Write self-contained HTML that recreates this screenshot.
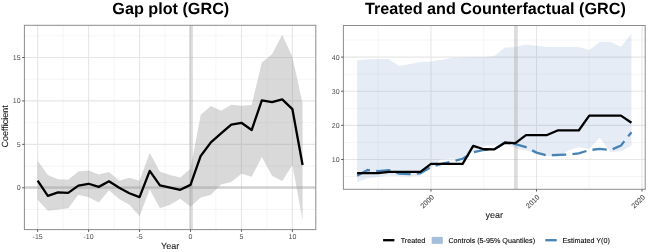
<!DOCTYPE html>
<html><head><meta charset="utf-8"><style>
html,body{margin:0;padding:0;background:#fff;width:648px;height:252px;overflow:hidden}
svg{display:block;will-change:transform;filter:blur(0.35px)}
text{font-family:"Liberation Sans",sans-serif;text-rendering:geometricPrecision}
.ax{font-size:7px;fill:#4d4d4d}
.ax2{font-size:7.1px;fill:#444;stroke:#444;stroke-width:0.06px}
.at{font-size:9px;fill:#111;stroke:#111;stroke-width:0.06px}
.ttl{font-size:16.2px;font-weight:bold;fill:#000}
.lg{font-size:7.2px;fill:#000;stroke:#000;stroke-width:0.08px}
</style></head><body>
<svg width="648" height="252" viewBox="0 0 648 252">
<rect width="648" height="252" fill="#fff"/>
<rect x="24.40" y="25.30" width="291.40" height="204.30" fill="#fff"/>
<line x1="24.40" x2="315.80" y1="209.46" y2="209.46" stroke="#eeeeee" stroke-width="0.6"/>
<line x1="24.40" x2="315.80" y1="166.04" y2="166.04" stroke="#eeeeee" stroke-width="0.6"/>
<line x1="24.40" x2="315.80" y1="122.63" y2="122.63" stroke="#eeeeee" stroke-width="0.6"/>
<line x1="24.40" x2="315.80" y1="79.21" y2="79.21" stroke="#eeeeee" stroke-width="0.6"/>
<line x1="24.40" x2="315.80" y1="35.80" y2="35.80" stroke="#eeeeee" stroke-width="0.6"/>
<line y1="25.30" y2="229.60" x1="63.12" x2="63.12" stroke="#eeeeee" stroke-width="0.6"/>
<line y1="25.30" y2="229.60" x1="114.08" x2="114.08" stroke="#eeeeee" stroke-width="0.6"/>
<line y1="25.30" y2="229.60" x1="165.03" x2="165.03" stroke="#eeeeee" stroke-width="0.6"/>
<line y1="25.30" y2="229.60" x1="215.97" x2="215.97" stroke="#eeeeee" stroke-width="0.6"/>
<line y1="25.30" y2="229.60" x1="266.93" x2="266.93" stroke="#eeeeee" stroke-width="0.6"/>
<line x1="24.40" x2="315.80" y1="187.75" y2="187.75" stroke="#e6e6e6" stroke-width="1.1"/>
<line x1="24.40" x2="315.80" y1="144.34" y2="144.34" stroke="#e6e6e6" stroke-width="1.1"/>
<line x1="24.40" x2="315.80" y1="100.92" y2="100.92" stroke="#e6e6e6" stroke-width="1.1"/>
<line x1="24.40" x2="315.80" y1="57.50" y2="57.50" stroke="#e6e6e6" stroke-width="1.1"/>
<line y1="25.30" y2="229.60" x1="37.65" x2="37.65" stroke="#e6e6e6" stroke-width="1.1"/>
<line y1="25.30" y2="229.60" x1="88.60" x2="88.60" stroke="#e6e6e6" stroke-width="1.1"/>
<line y1="25.30" y2="229.60" x1="139.55" x2="139.55" stroke="#e6e6e6" stroke-width="1.1"/>
<line y1="25.30" y2="229.60" x1="190.50" x2="190.50" stroke="#e6e6e6" stroke-width="1.1"/>
<line y1="25.30" y2="229.60" x1="241.45" x2="241.45" stroke="#e6e6e6" stroke-width="1.1"/>
<line y1="25.30" y2="229.60" x1="292.40" x2="292.40" stroke="#e6e6e6" stroke-width="1.1"/>
<polygon points="37.65,160.83 47.84,174.99 58.03,179.33 68.22,179.76 78.41,171.60 88.60,170.38 98.79,174.55 108.98,171.95 119.17,180.72 129.36,177.76 139.55,180.63 149.74,152.67 159.93,171.69 170.12,174.90 180.31,177.50 190.50,168.65 200.69,114.81 210.88,106.04 221.07,110.73 231.26,104.83 241.45,105.70 251.64,105.00 261.83,62.54 272.02,54.21 282.21,34.67 292.40,56.90 302.59,103.52 302.59,220.40 292.40,165.00 282.21,181.06 272.02,175.68 261.83,157.10 251.64,176.81 241.45,173.86 231.26,182.11 221.07,184.54 210.88,194.78 200.69,197.56 190.50,206.68 180.31,198.69 170.12,204.68 159.93,208.16 149.74,189.49 139.55,216.23 129.36,204.68 119.17,199.04 108.98,190.18 98.79,202.51 88.60,197.30 78.41,194.70 68.22,208.16 58.03,209.46 47.84,210.76 37.65,199.82" fill="rgba(128,128,128,0.3)"/>
<line x1="24.40" x2="315.80" y1="187.45" y2="187.45" stroke="rgba(160,160,160,0.36)" stroke-width="3"/>
<line y1="25.30" y2="229.60" x1="191.00" x2="191.00" stroke="rgba(160,160,160,0.36)" stroke-width="3.8"/>
<polyline points="37.65,180.63 47.84,195.91 58.03,192.44 68.22,192.87 78.41,185.67 88.60,183.76 98.79,186.88 108.98,181.32 119.17,187.75 129.36,193.22 139.55,197.13 149.74,170.82 159.93,185.41 170.12,187.58 180.31,189.83 190.50,184.88 200.69,155.97 210.88,142.42 221.07,133.31 231.26,124.54 241.45,122.80 251.64,130.01 261.83,100.31 272.02,102.22 282.21,99.44 292.40,109.17 302.59,165.00" fill="none" stroke="#000" stroke-width="2.3" stroke-linejoin="round"/>
<rect x="24.40" y="25.30" width="291.40" height="204.30" fill="none" stroke="#8c8c8c" stroke-width="1.0"/>
<line x1="22.20" x2="24.40" y1="187.75" y2="187.75" stroke="#555" stroke-width="1"/>
<text x="20.60" y="190.25" text-anchor="end" class="ax">0</text>
<line x1="22.20" x2="24.40" y1="144.34" y2="144.34" stroke="#555" stroke-width="1"/>
<text x="20.60" y="146.84" text-anchor="end" class="ax">5</text>
<line x1="22.20" x2="24.40" y1="100.92" y2="100.92" stroke="#555" stroke-width="1"/>
<text x="20.60" y="103.42" text-anchor="end" class="ax">10</text>
<line x1="22.20" x2="24.40" y1="57.50" y2="57.50" stroke="#555" stroke-width="1"/>
<text x="20.60" y="60.00" text-anchor="end" class="ax">15</text>
<line y1="229.60" y2="231.80" x1="37.65" x2="37.65" stroke="#555" stroke-width="1"/>
<text x="37.65" y="238.90" text-anchor="middle" class="ax">-15</text>
<line y1="229.60" y2="231.80" x1="88.60" x2="88.60" stroke="#555" stroke-width="1"/>
<text x="88.60" y="238.90" text-anchor="middle" class="ax">-10</text>
<line y1="229.60" y2="231.80" x1="139.55" x2="139.55" stroke="#555" stroke-width="1"/>
<text x="139.55" y="238.90" text-anchor="middle" class="ax">-5</text>
<line y1="229.60" y2="231.80" x1="190.50" x2="190.50" stroke="#555" stroke-width="1"/>
<text x="190.50" y="238.90" text-anchor="middle" class="ax">0</text>
<line y1="229.60" y2="231.80" x1="241.45" x2="241.45" stroke="#555" stroke-width="1"/>
<text x="241.45" y="238.90" text-anchor="middle" class="ax">5</text>
<line y1="229.60" y2="231.80" x1="292.40" x2="292.40" stroke="#555" stroke-width="1"/>
<text x="292.40" y="238.90" text-anchor="middle" class="ax">10</text>
<text x="170.8" y="14.2" text-anchor="middle" class="ttl">Gap plot (GRC)</text>
<text x="170.1" y="249" text-anchor="middle" class="at">Year</text>
<text transform="translate(8.2,126.4) rotate(-90)" text-anchor="middle" class="at">Coefficient</text>
<rect x="343.40" y="25.50" width="301.80" height="163.80" fill="#fff"/>
<line x1="343.40" x2="645.20" y1="176.53" y2="176.53" stroke="#eeeeee" stroke-width="0.6"/>
<line x1="343.40" x2="645.20" y1="142.41" y2="142.41" stroke="#eeeeee" stroke-width="0.6"/>
<line x1="343.40" x2="645.20" y1="108.28" y2="108.28" stroke="#eeeeee" stroke-width="0.6"/>
<line x1="343.40" x2="645.20" y1="74.14" y2="74.14" stroke="#eeeeee" stroke-width="0.6"/>
<line x1="343.40" x2="645.20" y1="40.02" y2="40.02" stroke="#eeeeee" stroke-width="0.6"/>
<line y1="25.50" y2="189.30" x1="378.22" x2="378.22" stroke="#eeeeee" stroke-width="0.6"/>
<line y1="25.50" y2="189.30" x1="483.74" x2="483.74" stroke="#eeeeee" stroke-width="0.6"/>
<line y1="25.50" y2="189.30" x1="589.26" x2="589.26" stroke="#eeeeee" stroke-width="0.6"/>
<line x1="343.40" x2="645.20" y1="159.47" y2="159.47" stroke="#e6e6e6" stroke-width="1.1"/>
<line x1="343.40" x2="645.20" y1="125.34" y2="125.34" stroke="#e6e6e6" stroke-width="1.1"/>
<line x1="343.40" x2="645.20" y1="91.21" y2="91.21" stroke="#e6e6e6" stroke-width="1.1"/>
<line x1="343.40" x2="645.20" y1="57.08" y2="57.08" stroke="#e6e6e6" stroke-width="1.1"/>
<line y1="25.50" y2="189.30" x1="430.98" x2="430.98" stroke="#e6e6e6" stroke-width="1.1"/>
<line y1="25.50" y2="189.30" x1="536.50" x2="536.50" stroke="#e6e6e6" stroke-width="1.1"/>
<line y1="25.50" y2="189.30" x1="642.02" x2="642.02" stroke="#e6e6e6" stroke-width="1.1"/>
<polygon points="357.12,60.15 367.67,59.30 378.22,59.03 388.77,59.03 399.33,65.95 409.88,63.91 420.43,62.03 430.98,61.52 441.53,59.81 452.09,58.10 462.64,57.42 473.19,57.22 483.74,57.22 494.29,56.06 504.85,47.52 515.40,47.18 525.95,44.45 536.50,45.82 547.05,47.01 557.61,47.01 568.16,47.01 578.71,47.01 589.26,50.02 599.81,41.72 610.37,41.72 620.92,47.01 631.47,33.87 631.47,145.61 620.92,151.21 610.37,152.00 599.81,137.70 589.26,148.89 578.71,147.18 568.16,150.60 557.61,157.59 547.05,155.72 536.50,153.50 525.95,150.60 515.40,148.55 504.85,142.75 494.29,145.14 483.74,145.82 473.19,151.96 462.64,159.13 452.09,158.45 441.53,159.13 430.98,168.00 420.43,175.85 409.88,176.53 399.33,176.19 388.77,175.51 378.22,177.05 367.67,178.24 357.12,182.00" fill="rgba(100,140,200,0.17)"/>
<line y1="25.50" y2="189.30" x1="515.90" x2="515.90" stroke="rgba(160,160,160,0.36)" stroke-width="3.8"/>
<polyline points="357.12,175.85 367.67,170.05 378.22,171.07 388.77,170.19 399.33,173.53 409.88,173.98 420.43,173.22 430.98,166.98 441.53,163.91 452.09,161.52 462.64,158.79 473.19,152.30 483.74,149.91 494.29,149.23 504.85,142.41 515.40,144.11 525.95,147.18 536.50,152.64 547.05,155.37 557.61,154.79 568.16,154.49 578.71,153.33 589.26,150.12 599.81,148.89 610.37,150.12 620.92,145.61 631.47,132.17" fill="none" stroke="#4682b4" stroke-width="2.3" stroke-dasharray="14.4 6.2"/>
<polyline points="357.12,173.12 367.67,173.12 378.22,173.12 388.77,171.83 399.33,171.83 409.88,171.83 420.43,171.83 430.98,163.91 441.53,163.91 452.09,163.91 462.64,163.91 473.19,145.89 483.74,149.23 494.29,149.40 504.85,142.75 515.40,143.09 525.95,135.07 536.50,135.07 547.05,135.07 557.61,130.46 568.16,130.46 578.71,130.46 589.26,115.61 599.81,115.61 610.37,115.61 620.92,115.61 631.47,122.71" fill="none" stroke="#000" stroke-width="2.3" stroke-linejoin="round"/>
<rect x="343.40" y="25.50" width="301.80" height="163.80" fill="none" stroke="#8c8c8c" stroke-width="1.0"/>
<line x1="341.20" x2="343.40" y1="159.47" y2="159.47" stroke="#555" stroke-width="1"/>
<text x="339.60" y="161.97" text-anchor="end" class="ax">10</text>
<line x1="341.20" x2="343.40" y1="125.34" y2="125.34" stroke="#555" stroke-width="1"/>
<text x="339.60" y="127.84" text-anchor="end" class="ax">20</text>
<line x1="341.20" x2="343.40" y1="91.21" y2="91.21" stroke="#555" stroke-width="1"/>
<text x="339.60" y="93.71" text-anchor="end" class="ax">30</text>
<line x1="341.20" x2="343.40" y1="57.08" y2="57.08" stroke="#555" stroke-width="1"/>
<text x="339.60" y="59.58" text-anchor="end" class="ax">40</text>
<line y1="189.30" y2="191.50" x1="430.98" x2="430.98" stroke="#555" stroke-width="1"/>
<text transform="translate(434.48,197.70) rotate(-45)" text-anchor="end" class="ax2">2000</text>
<line y1="189.30" y2="191.50" x1="536.50" x2="536.50" stroke="#555" stroke-width="1"/>
<text transform="translate(540.00,197.70) rotate(-45)" text-anchor="end" class="ax2">2010</text>
<line y1="189.30" y2="191.50" x1="642.02" x2="642.02" stroke="#555" stroke-width="1"/>
<text transform="translate(645.52,197.70) rotate(-45)" text-anchor="end" class="ax2">2020</text>
<text x="495.4" y="14.2" text-anchor="middle" class="ttl">Treated and Counterfactual (GRC)</text>
<text x="494.3" y="218.4" text-anchor="middle" class="at">year</text>
<line x1="383.1" x2="394.4" y1="240.2" y2="240.2" stroke="#000" stroke-width="2.3"/>
<text x="400.7" y="242.9" class="lg">Treated</text>
<rect x="431.7" y="236.9" width="11.1" height="7" fill="#a5bfdb"/>
<text x="448.4" y="242.9" class="lg">Controls (5-95% Quantiles)</text>
<line x1="545.3" x2="556.7" y1="240.2" y2="240.2" stroke="#4682b4" stroke-width="2.3"/>
<text x="562.5" y="242.9" class="lg">Estimated Y(0)</text>
</svg>
</body></html>
